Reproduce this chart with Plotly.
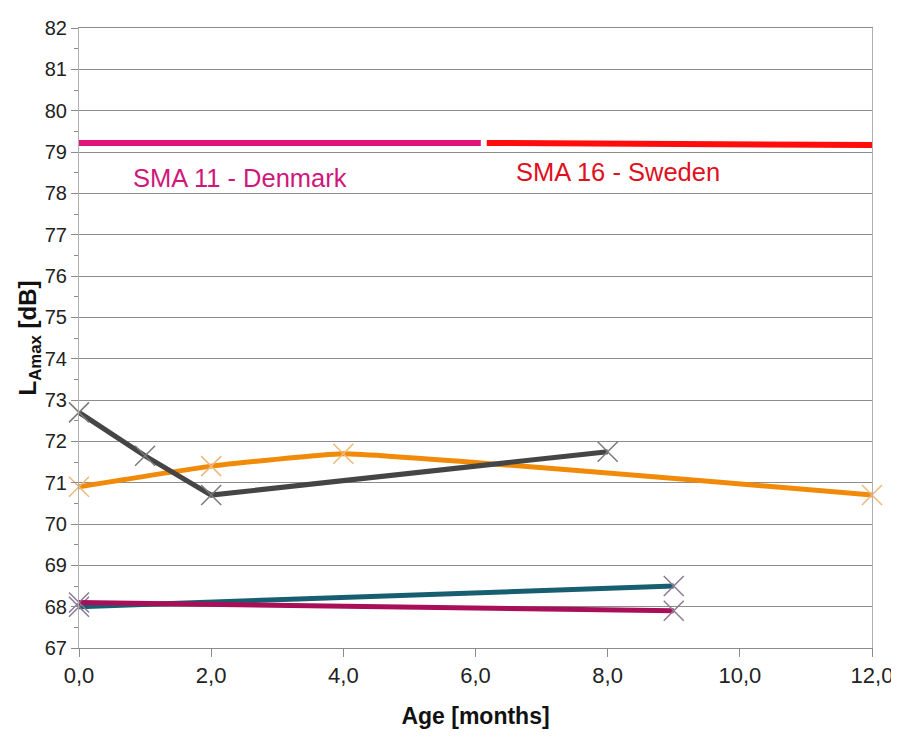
import plotly.graph_objects as go

# ---- data ----
gray_x = [0, 1, 2, 8]
gray_y = [72.7, 71.65, 70.7, 71.75]
orange_x = [0, 2, 4, 12]
orange_y = [70.9, 71.4, 71.7, 70.7]
teal_x = [0, 9]
teal_y = [68.0, 68.5]
crimson_x = [0, 9]
crimson_y = [68.1, 67.9]
denmark_x = [0, 6.08]
denmark_y = [79.22, 79.22]
sweden_x = [6.17, 12]
sweden_y = [79.22, 79.17]
x_ticks = [0, 2, 4, 6, 8, 10, 12]
y_ticks = list(range(67, 83))

FONT = "Liberation Sans, Arial, sans-serif"

# page body has an 8px margin: figure sized/offset to compensate
W, H = 891, 721
L, T = 71, 20
PR, PB = 864, 640   # plot right / bottom in figure px

fig = go.Figure()

def series(x, y, color, mcolor, width=5, shape="linear"):
    fig.add_trace(go.Scatter(
        x=x, y=y, mode="lines+markers",
        line=dict(color=color, width=width, shape=shape, smoothing=0.3),
        marker=dict(symbol="x-thin-open", size=20, color=mcolor,
                    line=dict(color=mcolor, width=1.5)),
        cliponaxis=False, showlegend=False, hoverinfo="x+y"))

# SMA limit lines
fig.add_trace(go.Scatter(x=denmark_x, y=denmark_y, mode="lines",
                         line=dict(color="#e0137c", width=6), showlegend=False))
fig.add_trace(go.Scatter(x=sweden_x, y=sweden_y, mode="lines",
                         line=dict(color="#ff0d0d", width=6), showlegend=False))

series(teal_x, teal_y, "#175f70", "#8a7a92")
series(crimson_x, crimson_y, "#a80f58", "#8a7a92")
series(orange_x, orange_y, "#f08a08", "#f0b878", shape="spline")
series(gray_x, gray_y, "#454545", "#7a7a7a")

fig.add_annotation(x=2.44, y=78.37, text="SMA 11 - Denmark", showarrow=False,
                   font=dict(family=FONT, size=25.5, color="#d0187a"))
fig.add_annotation(x=8.16, y=78.52, text="SMA 16 - Sweden", showarrow=False,
                   font=dict(family=FONT, size=25.5, color="#e01020"))

fig.update_layout(
    width=W, height=H,
    margin=dict(l=L, r=W - PR, t=T, b=H - PB),
    paper_bgcolor="white", plot_bgcolor="white",
    separators=",.",
    font=dict(family=FONT, color="#222"),
)
fig.update_xaxes(
    range=[0, 12], tickvals=x_ticks, tickformat=".1f", automargin=False,
    showgrid=False, zeroline=False,
    showline=True, linecolor="#8c8c8c", linewidth=1, mirror=True,
    ticks="outside", ticklen=8, tickcolor="#8c8c8c",
    tickfont=dict(family=FONT, size=22, color="#222"),
    title=dict(text="<b>Age [months]</b>", font=dict(family=FONT, size=23, color="#111"),
               standoff=22),
)
fig.update_yaxes(
    range=[67, 82], tickvals=y_ticks, automargin=False,
    showgrid=True, gridcolor="#8c8c8c", gridwidth=1, zeroline=False,
    showline=True, linecolor="#b0b0b0", linewidth=1, mirror=True,
    ticks="outside", ticklen=7, tickcolor="#8c8c8c",
    minor=dict(dtick=0.5, ticks="outside", ticklen=4, tickcolor="#8c8c8c", showgrid=False),
    tickfont=dict(family=FONT, size=20, color="#222"),
    title=dict(text="<b>L<sub>Amax</sub> [dB]</b>", font=dict(family=FONT, size=24, color="#111"),
               standoff=0),
)

fig.write_html("out.html")
